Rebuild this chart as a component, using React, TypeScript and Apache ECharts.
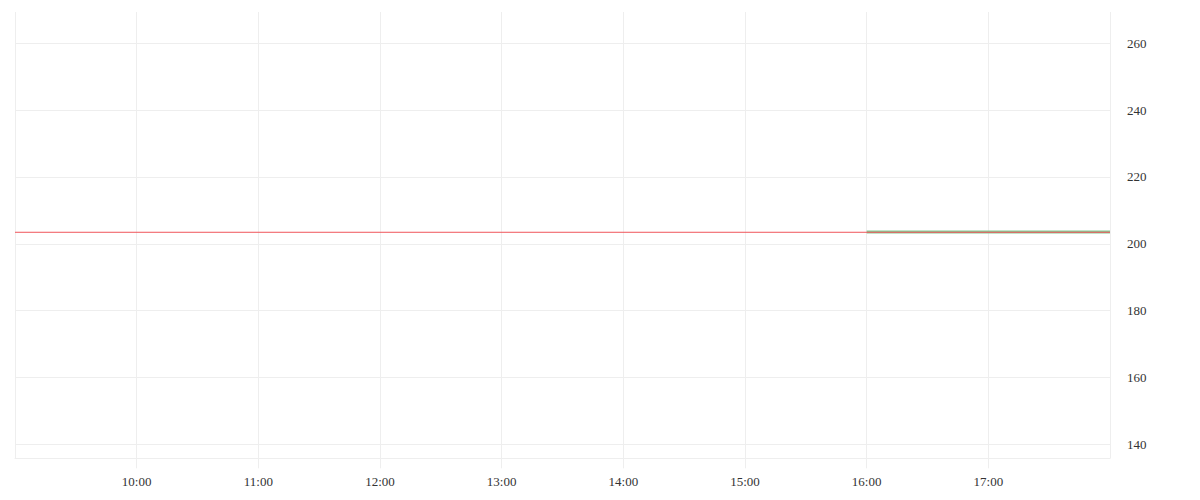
import React, { useEffect, useRef } from "react";
import * as echarts from "echarts";

// hours of the trading day shown on the x axis
const HOUR_MIN = 9;
const HOUR_MAX = 18;
const PRICE_TICKS = [140, 160, 180, 200, 220, 240, 260];

// last price, flat across the session
const PRICE_LINE: [number, number][] = [
    [9, 203.45],
    [18, 203.45],
];
// after-hours segment
const AFTER_HOURS: [number, number][] = [
    [16, 203.5],
    [18, 203.5],
];

const GRID_COLOR = "#eeeeee";
const TEXT_COLOR = "#333333";
const FONT = "'Liberation Serif', serif";

const App: React.FC = () => {
    const ref = useRef<HTMLDivElement | null>(null);

    useEffect(() => {
        if (!ref.current) return;
        const inst = echarts.init(ref.current, undefined, { renderer: "svg" });

        const yMin = PRICE_TICKS[0];
        const yMax = PRICE_TICKS[PRICE_TICKS.length - 1];

        inst.setOption({
            animation: false,
            backgroundColor: "#ffffff",
            grid: [
                { left: 15, right: 90, top: 43.3, bottom: 55.7 },
                { left: 15, right: 90, top: 12, bottom: 41.7 },
            ],
            xAxis: [
                {
                    type: "value",
                    gridIndex: 0,
                    min: HOUR_MIN,
                    max: HOUR_MAX,
                    interval: 1,
                    show: false,
                },
                {
                    type: "value",
                    gridIndex: 1,
                    min: HOUR_MIN,
                    max: HOUR_MAX,
                    interval: 1,
                    axisLine: { show: true, lineStyle: { color: GRID_COLOR, width: 1 } },
                    axisTick: { show: true, length: 10, lineStyle: { color: GRID_COLOR } },
                    splitLine: { show: true, lineStyle: { color: GRID_COLOR, width: 1 } },
                    axisLabel: {
                        color: TEXT_COLOR,
                        fontFamily: FONT,
                        fontSize: 13,
                        margin: 17,
                        showMinLabel: false,
                        showMaxLabel: false,
                        formatter: (v: number) => `${v}:00`,
                    },
                },
            ],
            yAxis: [
                {
                    type: "value",
                    gridIndex: 0,
                    position: "right",
                    min: yMin,
                    max: yMax,
                    interval: 20,
                    axisLine: { show: false },
                    axisTick: { show: false },
                    splitLine: { show: true, lineStyle: { color: GRID_COLOR, width: 1 } },
                    axisLabel: {
                        color: TEXT_COLOR,
                        fontFamily: FONT,
                        fontSize: 13,
                        margin: 17,
                    },
                },
                {
                    type: "value",
                    gridIndex: 1,
                    show: false,
                    splitLine: { show: false },
                },
            ],
            series: [
                {
                    type: "line",
                    xAxisIndex: 0,
                    yAxisIndex: 0,
                    data: AFTER_HOURS,
                    symbol: "none",
                    lineStyle: { color: "#86c995", width: 3 },
                    z: 2,
                },
                {
                    type: "line",
                    xAxisIndex: 0,
                    yAxisIndex: 0,
                    data: PRICE_LINE,
                    symbol: "none",
                    lineStyle: { color: "#f0555a", width: 1 },
                    z: 3,
                },
            ],
        });

        return () => inst.dispose();
    }, []);

    return (
        <div
            ref={ref}
            style={{ position: "absolute", left: 0, top: 0, width: 1200, height: 500 }}
        />
    );
};

export default App;
